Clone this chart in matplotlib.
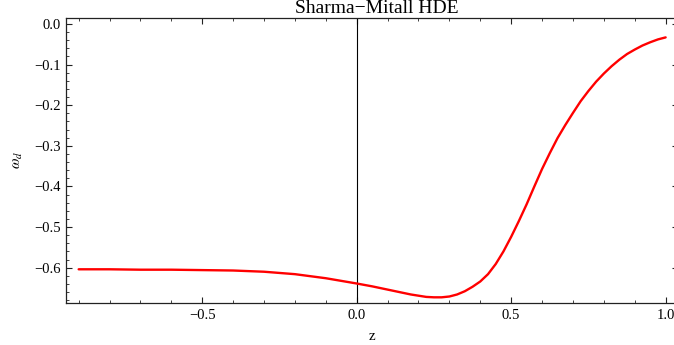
import matplotlib
matplotlib.use("Agg")
import matplotlib.pyplot as plt
from matplotlib.ticker import MultipleLocator, FixedLocator, FuncFormatter

plt.rcParams['font.family'] = ['Liberation Serif', 'DejaVu Serif']
plt.rcParams['mathtext.fontset'] = 'stix'

z = [-0.9, -0.8, -0.7, -0.6, -0.5, -0.4, -0.3, -0.2, -0.1, 0.0,
     0.05, 0.1, 0.125, 0.15, 0.175, 0.2, 0.225, 0.25, 0.275, 0.3, 0.325,
     0.35, 0.375, 0.4, 0.425, 0.45, 0.475,
     0.5, 0.525, 0.55, 0.575, 0.6, 0.625, 0.65, 0.675, 0.7, 0.725, 0.75,
     0.775, 0.8, 0.825, 0.85, 0.875, 0.9, 0.925, 0.95, 0.975, 1.0]
w_d = [-0.604, -0.604, -0.605, -0.605, -0.606, -0.607, -0.610, -0.616, -0.626, -0.639,
       -0.646, -0.654, -0.658, -0.662, -0.666, -0.669, -0.672, -0.673, -0.673, -0.671, -0.666,
       -0.658, -0.647, -0.634, -0.616, -0.591, -0.560,
       -0.524, -0.485, -0.444, -0.400, -0.357, -0.318, -0.281, -0.249, -0.219, -0.190, -0.165,
       -0.142, -0.122, -0.104, -0.088, -0.074, -0.063, -0.053, -0.045, -0.038, -0.033]

title = "Sharma\u2212Mitall HDE"
xlabel = "z"
ylabel = r"$\omega_d$"

W, H = 674, 345
fig = plt.figure(figsize=(W/100, H/100), dpi=100)
ax = fig.add_axes([66/W, (H-303)/H, (678-66)/W, (303-18.3)/H])

ax.plot(z, w_d, color='#ff0000', lw=1.7, solid_capstyle='round',
        solid_joinstyle='round', zorder=3)
ax.axvline(0, color='black', lw=0.8, zorder=2)

ax.set_xlim(-0.941, 1.040)
ax.set_ylim(-0.687, 0.014)

fmt = FuncFormatter(lambda v, p: f"{v:.1f}".replace('-', '\u2212'))
ax.xaxis.set_major_locator(FixedLocator([-0.5, 0.0, 0.5, 1.0]))
ax.xaxis.set_minor_locator(MultipleLocator(0.1))
ax.yaxis.set_major_locator(MultipleLocator(0.1))
ax.yaxis.set_minor_locator(MultipleLocator(0.02))
ax.xaxis.set_major_formatter(fmt)
ax.yaxis.set_major_formatter(fmt)

ax.tick_params(which='both', direction='in', top=True, right=True, colors='#222222', labelcolor='black')
ax.tick_params(which='major', length=4.5, width=0.8, labelsize=10.5, pad=4)
ax.tick_params(which='minor', length=2.5, width=0.6)
for s in ax.spines.values():
    s.set_linewidth(0.9)
    s.set_color('#222222')

fig.text(377/W, 1 - 8.5/H, title, ha='center', va='center', fontsize=14)
fig.text(372/W, 1 - 336/H, xlabel, ha='center', va='center', fontsize=11)
fig.text(18/W, 1 - 160/H, ylabel, ha='center', va='center', fontsize=11, rotation=90)

fig.savefig("out.png", dpi=100)
